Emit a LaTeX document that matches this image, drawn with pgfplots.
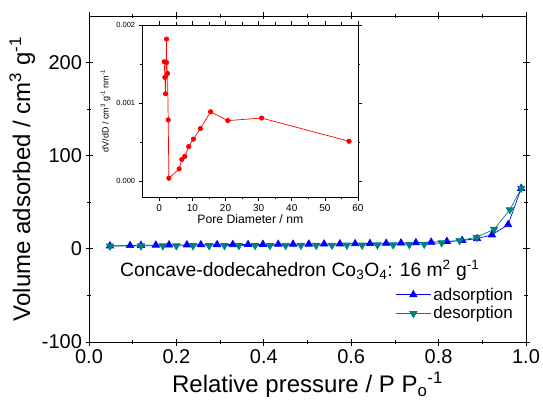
\documentclass[border=0pt]{standalone}
\usepackage{fontspec}
\setmainfont{Liberation Sans}
\usepackage{pgfplots}
\pgfplotsset{compat=1.18}
\definecolor{adsblue}{RGB}{0,0,255}
\definecolor{desteal}{RGB}{0,128,128}
\begin{document}
\begin{tikzpicture}[x=1pt,y=1pt]
\path[use as bounding box] (0,0) rectangle (543,407);
\begin{axis}[
  at={(89pt,65pt)}, anchor=south west,
  scale only axis, width=437pt, height=326pt,
  xmin=0, xmax=1, ymin=-100, ymax=250,
  xtick={0,0.2,0.4,0.6,0.8,1.0},
  ytick={-100,0,100,200},
  minor x tick num=1, minor ytick={-50,50,150},
  tick align=center,
  major tick length=7pt, minor tick length=4pt,
  axis line style={line width=0.9pt},
  every tick/.style={black, line width=0.8pt},
  /pgf/number format/assume math mode=true,
  xticklabel style={/pgf/number format/fixed, /pgf/number format/fixed zerofill, /pgf/number format/precision=1},
  ticklabel style={font=\fontsize{20}{24}\selectfont},
  xlabel={Relative pressure / P P\textsubscript{o}\textsuperscript{-1}},
  ylabel={Volume adsorbed / cm\textsuperscript{3} g\textsuperscript{-1}},
  label style={font=\fontsize{24}{28}\selectfont},
  xlabel style={yshift=-2pt},
  ylabel style={yshift=0pt},
  legend style={at={(rel axis cs:0.977,0.176)}, anchor=north east, draw=none, fill=none,
     font=\fontsize{17}{20}\selectfont, row sep=1pt, inner sep=1pt},
  legend cell align=left,
  legend image code/.code={\draw[mark repeat=2,mark phase=2] plot coordinates {(0cm,0cm) (0.62cm,0cm) (1.24cm,0cm)};},
]
\addplot[adsblue, line width=0.7pt, mark=triangle*, mark size=4.2pt, mark options={solid, fill=adsblue}] coordinates {
(0.048,3.2) (0.094,3.6) (0.119,3.8) (0.153,4.0) (0.183,4.2) (0.224,4.3) (0.256,4.4)
(0.293,4.5) (0.329,4.6) (0.364,4.7) (0.398,4.8) (0.433,4.9) (0.467,5.0) (0.503,5.1)
(0.538,5.2) (0.574,5.4) (0.609,5.6) (0.643,5.8) (0.680,6.0) (0.714,6.3) (0.748,6.6)
(0.783,7.2) (0.819,8.0) (0.854,9.0) (0.888,11.0) (0.922,15.0) (0.959,26.0) (0.989,65.0)
};
\addlegendentry{adsorption}
\addplot[desteal, line width=0.7pt, mark=triangle*, mark size=4.2pt, mark options={solid, fill=desteal, rotate=180}] coordinates {
(0.989,65.0) (0.963,42.0) (0.927,21.0) (0.887,12.5) (0.848,9.0) (0.807,6.5) (0.767,5.0)
(0.733,4.5) (0.696,4.3) (0.660,4.2) (0.625,4.0) (0.590,4.0) (0.556,3.9) (0.520,3.8)
(0.485,3.8) (0.450,3.7) (0.414,3.6) (0.380,3.6) (0.343,3.5) (0.310,3.5) (0.275,3.4)
(0.238,3.4) (0.200,3.3) (0.169,3.3) (0.119,3.2) (0.048,3.0)
};
\addlegendentry{desorption}
\node[anchor=west, font=\fontsize{19.3}{23}\selectfont, inner sep=0pt] at (axis cs:0.071,-23)
  {Concave-dodecahedron Co\textsubscript{3}O\textsubscript{4}: 16 m\textsuperscript{2} g\textsuperscript{-1}};
\end{axis}
\begin{axis}[
  at={(142.7pt,210pt)}, anchor=south west,
  scale only axis, width=215.3pt, height=172pt,
  xmin=-5, xmax=60, ymin=-0.0002, ymax=0.002,
  xtick={0,10,20,30,40,50,60},
  ytick={0,0.001,0.002},
  minor x tick num=1, minor ytick={0.0005,0.0015},
  scaled y ticks=false,
  tick align=outside,
  major tick length=4pt, minor tick length=2.5pt,
  axis line style={line width=0.7pt},
  every tick/.style={black, line width=0.6pt},
  /pgf/number format/assume math mode=true,
  yticklabel style={font=\fontsize{7.5}{9}\selectfont, /pgf/number format/fixed, /pgf/number format/fixed zerofill, /pgf/number format/precision=3},
  xticklabel style={font=\fontsize{10}{12}\selectfont},
  xlabel={Pore Diameter / nm},
  ylabel={dV/dD / cm\textsuperscript{3} g\textsuperscript{-1} nm\textsuperscript{-1}},
  xlabel style={font=\fontsize{12.2}{14}\selectfont, yshift=4pt},
  ylabel style={font=\fontsize{9}{10}\selectfont, yshift=-1pt},
]
\addplot[red, line width=0.7pt, mark=*, mark size=2.2pt] coordinates {
(1.5,0.00153) (1.7,0.00133) (1.9,0.00112) (2.2,0.00182) (2.2,0.00152) (2.5,0.00138)
(2.7,0.000786) (2.9,0.00004) (6.0,0.00016) (6.8,0.00028) (7.7,0.00032) (8.9,0.000445)
(10.3,0.00054) (12.4,0.000675) (15.5,0.00089) (20.7,0.000777) (30.9,0.00081) (57.3,0.000513)
};
\end{axis}
\end{tikzpicture}
\end{document}
